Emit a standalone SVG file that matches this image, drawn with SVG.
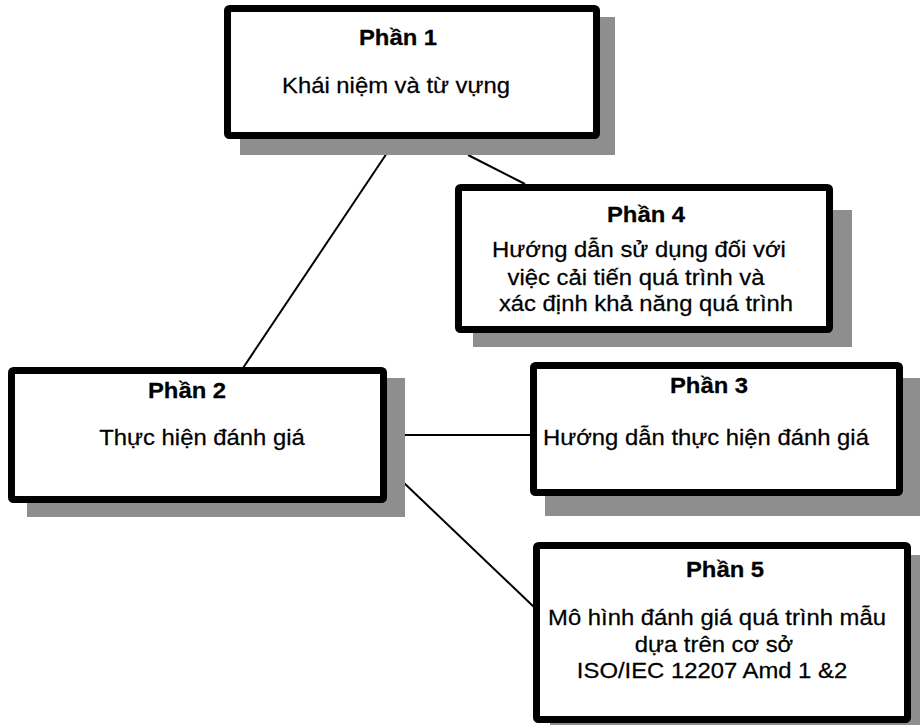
<svg xmlns="http://www.w3.org/2000/svg" width="920" height="725" viewBox="0 0 920 725">
  <style>
    .shadow { fill: #8e8e8e; }
    .box { fill: #ffffff; stroke: #000000; stroke-width: 7; }
    .link { stroke: #000000; stroke-width: 2; fill: none; }
    text { font-family: "Liberation Sans", Arial, sans-serif; font-size: 22.5px; fill: #000000; stroke: #000000; stroke-width: 0.25; text-anchor: middle; }
    .title { font-weight: bold; }
  </style>
  <rect width="920" height="725" fill="#ffffff"/>

  <!-- connectors -->
  <g id="connectors">
    <line class="link" x1="387" y1="153" x2="243" y2="368"/>
    <line class="link" x1="468" y1="155" x2="525" y2="184"/>
    <line class="link" x1="405" y1="435" x2="531" y2="435"/>
    <line class="link" x1="403" y1="482" x2="535" y2="608"/>
  </g>

  <!-- Phần 1 -->
  <g id="part1">
    <rect class="shadow" x="240" y="17" width="375" height="138"/>
    <rect class="box" x="227.5" y="8.5" width="369" height="127" rx="2"/>
    <text class="title" transform="translate(398 45) scale(1.06 1)">Phần 1</text>
    <text transform="translate(396 93) scale(1.06 1)">Khái niệm và từ vựng</text>
  </g>

  <!-- Phần 4 -->
  <g id="part4">
    <rect class="shadow" x="473" y="210" width="379" height="137"/>
    <rect class="box" x="458.5" y="187.5" width="371" height="142" rx="2"/>
    <text class="title" transform="translate(646 222) scale(1.06 1)">Phần 4</text>
    <text transform="translate(639 257) scale(1.06 1)">Hướng dẫn sử dụng đối với</text>
    <text transform="translate(636 285) scale(1.06 1)">việc cải tiến quá trình và</text>
    <text transform="translate(646 311) scale(1.06 1)">xác định khả năng quá trình</text>
  </g>

  <!-- Phần 2 -->
  <g id="part2">
    <rect class="shadow" x="27" y="378" width="378" height="139"/>
    <rect class="box" x="11.5" y="370.5" width="372" height="129" rx="2"/>
    <text class="title" transform="translate(187 398) scale(1.06 1)">Phần 2</text>
    <text transform="translate(202 445) scale(1.06 1)">Thực hiện đánh giá</text>
  </g>

  <!-- Phần 3 -->
  <g id="part3">
    <rect class="shadow" x="545" y="378" width="385" height="138"/>
    <rect class="box" x="533.5" y="365.5" width="366" height="127" rx="2"/>
    <text class="title" transform="translate(709 393) scale(1.06 1)">Phần 3</text>
    <text transform="translate(706 445) scale(1.06 1)">Hướng dẫn thực hiện đánh giá</text>
  </g>

  <!-- Phần 5 -->
  <g id="part5">
    <rect class="shadow" x="550" y="555" width="380" height="190"/>
    <rect class="box" x="536.5" y="545.5" width="371" height="174" rx="2"/>
    <text class="title" transform="translate(725 577) scale(1.06 1)">Phần 5</text>
    <text transform="translate(717 625) scale(1.06 1)">Mô hình đánh giá quá trình mẫu</text>
    <text transform="translate(714 652) scale(1.06 1)">dựa trên cơ sở</text>
    <text transform="translate(712 678) scale(1.06 1)">ISO/IEC 12207 Amd 1 &amp;2</text>
  </g>
</svg>
